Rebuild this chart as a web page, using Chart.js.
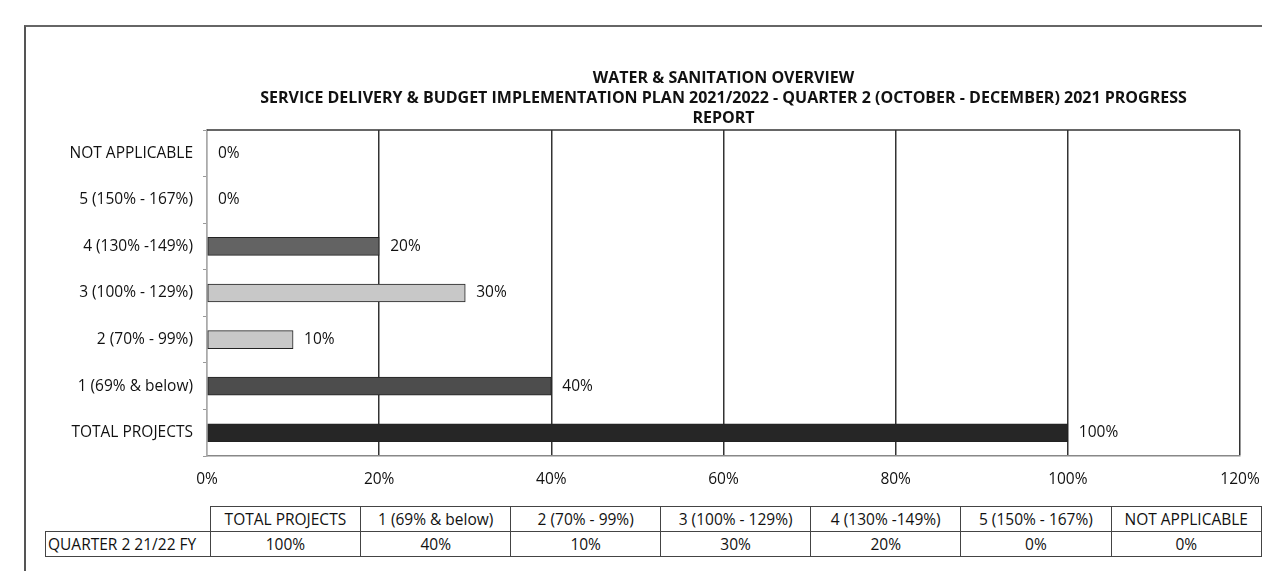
<!DOCTYPE html>
<html>
<head>
<meta charset="utf-8">
<script src="https://cdn.jsdelivr.net/npm/chart.js@4.4.1/dist/chart.umd.min.js"></script>
<style>
  body { margin: 0; background: #fff; font-family: "Open Sans", sans-serif; }
  #frame { position: absolute; left: 24px; top: 25px; width: 1250px; height: 560px;
           border-left: 2px solid #555; border-top: 2px solid #666; }
  #g1 { position: absolute; left: 0; top: 0; }
  #tabela { position: absolute; left: 45px; top: 506px; border-collapse: collapse;
            font-size: 15.5px; color: #111; }
  #tabela td { border: 1.5px solid #444; height: 24px; padding: 0 2px; text-align: center;
               width: 146px; white-space: nowrap; }
  #tabela td.vazio { border: none; width: 160px; }
  #tabela td.serie { text-align: left; width: 160px; }
</style>
</head>
<body>
<div id="frame"></div>
<canvas id="g1" width="1262" height="500"></canvas>
<table id="tabela"></table>

<script>
 // Categorias e valores (ordem da tabela de dados)
 const categorias = ['TOTAL PROJECTS', '1 (69% & below)', '2 (70% - 99%)', '3 (100% - 129%)',
                     '4 (130% -149%)', '5 (150% - 167%)', 'NOT APPLICABLE'];
 const serieNome = 'QUARTER 2 21/22 FY';
 const quarter2 = [100, 40, 10, 30, 20, 0, 0];
 const xTicks = [0, 20, 40, 60, 80, 100, 120];
 const titulo = ['WATER & SANITATION OVERVIEW',
                 'SERVICE DELIVERY & BUDGET IMPLEMENTATION PLAN 2021/2022 - QUARTER 2 (OCTOBER - DECEMBER) 2021 PROGRESS',
                 'REPORT'];

 const coresBarras = ['#262626', '#4d4d4d', '#c8c8c8', '#c8c8c8', '#636363', '#888888', '#888888'];
 const fonte = '"Open Sans", sans-serif';

 // Moldura superior da área do gráfico
 const molduraPlugin = {
     id: 'moldura',
     afterDraw(chart) {
         const a = chart.chartArea;
         const c = chart.ctx;
         c.save();
         c.strokeStyle = '#333';
         c.lineWidth = 1.5;
         c.beginPath();
         c.moveTo(a.left, a.top);
         c.lineTo(a.right, a.top);
         c.stroke();
         c.restore();
     }
 };

 // Rótulos de valor no fim de cada barra
 const rotulosPlugin = {
     id: 'rotulos',
     afterDatasetsDraw(chart) {
         const c = chart.ctx;
         const meta = chart.getDatasetMeta(0);
         c.save();
         c.font = '15.5px ' + fonte;
         c.fillStyle = '#111';
         c.textBaseline = 'middle';
         meta.data.forEach((bar, i) => {
             c.fillText(quarter2[i] + '%', bar.x + 11, bar.y);
         });
         c.restore();
     }
 };

 const ctx = document.getElementById('g1').getContext('2d');
 new Chart(ctx, {
     type: 'bar',
     data: {
         labels: categorias,
         datasets: [{
             label: serieNome,
             data: quarter2,
             backgroundColor: coresBarras,
             borderColor: '#222',
             borderWidth: 1,
             borderSkipped: false,
             barThickness: 18
         }]
     },
     options: {
         indexAxis: 'y',
         responsive: false,
         animation: false,
         layout: { padding: { left: 20, right: 22, top: 0, bottom: 0 } },
         scales: {
             x: {
                 min: 0,
                 max: 120,
                 afterBuildTicks: (scale) => { scale.ticks = xTicks.map(v => ({ value: v })); },
                 afterFit: (scale) => {
                     scale.height = 44;
                     scale.paddingLeft = 0;
                     scale.paddingRight = 0;
                 },
                 ticks: {
                     padding: 14,
                     color: '#111',
                     font: { family: fonte, size: 15.5 },
                     callback: (v) => v + '%'
                 },
                 grid: {
                     color: (c) => c.tick && c.tick.value === 0 ? '#aaa' : '#333',
                     lineWidth: 1.5,
                     drawTicks: false
                 },
                 border: { display: true, color: '#888', width: 1.5 }
             },
             y: {
                 reverse: true,
                 afterFit: (scale) => { scale.width = 187; },
                 ticks: {
                     padding: 10,
                     color: '#111',
                     font: { family: fonte, size: 15.5 }
                 },
                 grid: { drawOnChartArea: false, tickLength: 4, color: '#999', offset: true },
                 border: { display: true, color: '#aaa', width: 1.5 }
             }
         },
         plugins: {
             legend: { display: false },
             tooltip: { enabled: false },
             title: {
                 display: true,
                 fullSize: false,
                 text: titulo,
                 color: '#111',
                 font: { family: fonte, size: 16, weight: 'bold', lineHeight: '20px' },
                 padding: { top: 68, bottom: 2 }
             }
         }
     },
     plugins: [molduraPlugin, rotulosPlugin]
 });

 // Tabela de dados abaixo do gráfico
 const tabela = document.getElementById('tabela');
 const linhaCab = tabela.insertRow();
 linhaCab.insertCell().className = 'vazio';
 categorias.forEach(cat => { linhaCab.insertCell().textContent = cat; });
 const linhaVal = tabela.insertRow();
 const celSerie = linhaVal.insertCell();
 celSerie.className = 'serie';
 celSerie.textContent = serieNome;
 quarter2.forEach(v => { linhaVal.insertCell().textContent = v + '%'; });
</script>
</body>
</html>
